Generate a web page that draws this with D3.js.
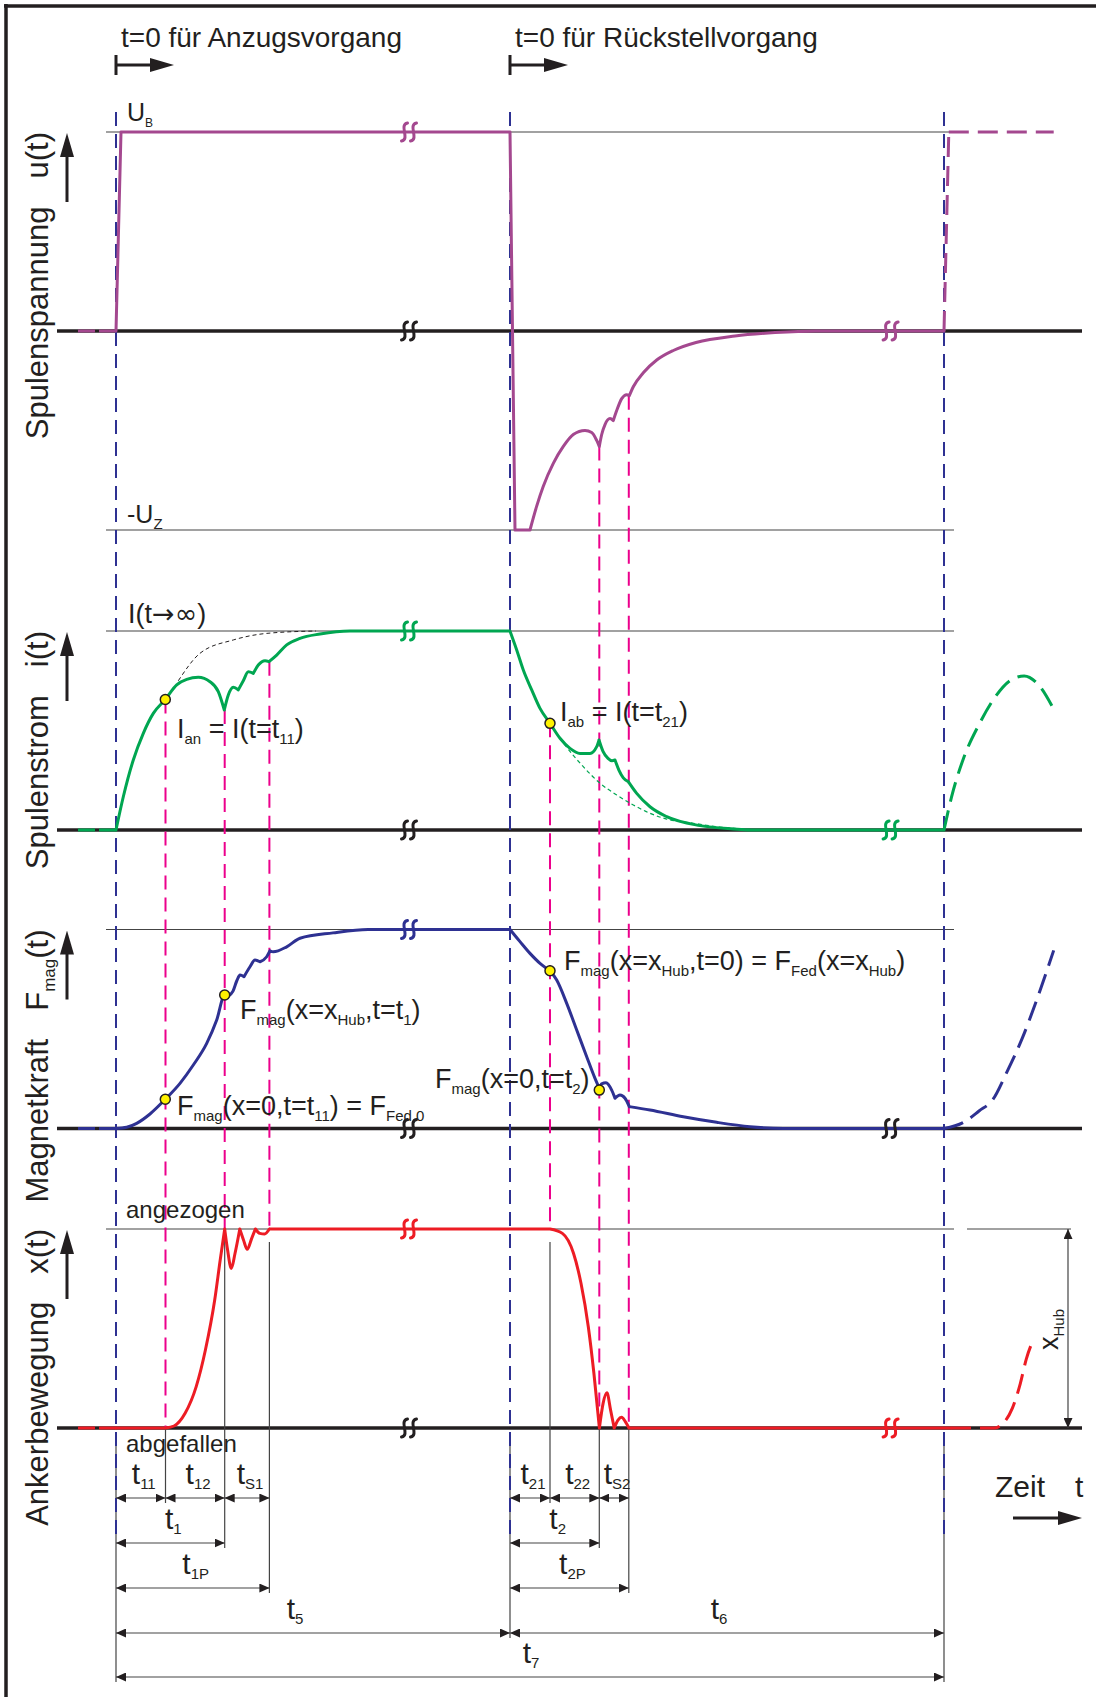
<!DOCTYPE html>
<html>
<head>
<meta charset="utf-8">
<script src="https://cdn.jsdelivr.net/npm/d3@7"></script>
<style>
  body { margin: 0; background: #fff; }
  svg { display: block; font-family: "Liberation Sans", Arial, sans-serif; }
  text { white-space: pre; fill: #231f20; }
</style>
</head>
<body>
<div id="canvas"></div>
<script>
// ---- time markers (diagram time units, t=0 at start of Anzugsvorgang)
const markerNames = ["T1", "t11", "t1", "tS1", "T2", "t21", "t2", "tS2", "T3"];
const markerTimes = [0, 49.5, 108.7, 153.4, 394, 434, 483.3, 512.8, 828];
const breakTimes = [293, 774.6];
const leadIn = [[-38, -21], [-17, 0]];

// ---- u(t) Spulenspannung (normalised, UB = 1, -UZ = -1)
const uCurve = [
  [[0, 0], [5, 1]],
  [[5, 1], [394, 1]],
  [[394, 1], [399, -1]],
  [[399, -1], [414, -1]],
  [[414, -1], [420.7, -0.88], [427.3, -0.78], [437.3, -0.665], [447.3, -0.58], [457.3, -0.52], [469, -0.5], [475.7, -0.51], [480.7, -0.55], [483.3, -0.58]],
  [[483.3, -0.58], [485.7, -0.52], [489, -0.47], [494, -0.44], [497.3, -0.45]],
  [[497.3, -0.45], [500.7, -0.4], [505.7, -0.34], [510.7, -0.32], [513.3, -0.325]],
  [[513.3, -0.325], [517.3, -0.28], [527.3, -0.21], [540.7, -0.146], [557.3, -0.098], [580, -0.058], [619, -0.025], [659, -0.008], [700, 0], [828, 0]]
];
const uNext = [[[828, 0], [832.8, 1]], [[832.8, 1], [937.7, 1]]];

// ---- i(t) Spulenstrom (I(t->inf) = 1)
const iCurve = [
  [[0, 0], [7.3, 0.167], [17.3, 0.352], [27.3, 0.486], [37.3, 0.586], [49.3, 0.656], [60.7, 0.729], [70.7, 0.757], [82.3, 0.767], [94, 0.745], [102.3, 0.695], [108.3, 0.603]],
  [[108.3, 0.603], [112.3, 0.678], [117.3, 0.717], [122.3, 0.704]],
  [[122.3, 0.704], [127.3, 0.75], [132.3, 0.795], [137.3, 0.787]],
  [[137.3, 0.787], [142.3, 0.829], [149, 0.851], [153, 0.846]],
  [[153, 0.846], [160.7, 0.879], [170.7, 0.93], [184, 0.963], [204, 0.985], [234, 1], [394, 1]],
  [[394, 1], [400.7, 0.905], [407.3, 0.804], [415.7, 0.704], [424, 0.611], [434, 0.536], [444, 0.461], [454, 0.41], [464, 0.385], [474, 0.385], [480.7, 0.419], [483, 0.452]],
  [[483, 0.452], [487, 0.395], [492, 0.36], [496, 0.348], [499, 0.352]],
  [[499, 0.352], [503, 0.3], [507.3, 0.262], [512.3, 0.243]],
  [[512.3, 0.243], [520.7, 0.184], [534, 0.117], [550.7, 0.067], [584, 0.022], [617.3, 0.005], [634, 0], [828, 0]]
];
const iNext = [[[828, 0], [835.5, 0.165], [847.3, 0.357], [863, 0.53], [878.7, 0.665], [894.5, 0.752], [908.2, 0.774], [922, 0.732], [937.7, 0.607]]];
const iIdealOn = [[62.3, 0.75], [84, 0.888], [117.3, 0.955], [150.7, 0.988], [200, 1]];
const iIdealOff = [[440, 0.49], [449, 0.427], [467.3, 0.318], [484, 0.235], [500.7, 0.176], [517.3, 0.126], [534, 0.084], [550.7, 0.055], [577.3, 0.034], [604, 0.015], [640, 0.002]];

// ---- F_mag(t) Magnetkraft
const fCurve = [
  [[0, 0], [10.7, 0.006], [20.7, 0.026], [34, 0.073], [49.3, 0.147], [64, 0.227], [77.3, 0.319], [90.7, 0.428], [100.7, 0.545], [108.7, 0.671], [112, 0.664]],
  [[112, 0.664], [117, 0.69], [121, 0.745], [124, 0.771], [128, 0.763]],
  [[128, 0.763], [134, 0.813], [139, 0.847], [144, 0.838]],
  [[144, 0.838], [150.7, 0.863], [154, 0.893]],
  [[154, 0.893], [157.3, 0.888], [170.7, 0.913], [184, 0.956], [217, 0.983], [252, 1], [394, 1]],
  [[394, 1], [404, 0.939], [414, 0.88], [424, 0.83], [434, 0.793]],
  [[434, 0.793], [440.7, 0.746], [450.7, 0.629], [460.7, 0.495], [470.7, 0.361], [479, 0.252], [483.3, 0.202]],
  [[483.3, 0.202], [485.7, 0.224], [490, 0.23], [495.7, 0.193], [499, 0.152]],
  [[499, 0.152], [504, 0.168], [509, 0.152], [513.3, 0.11]],
  [[513.3, 0.11], [534, 0.093], [567.3, 0.059], [600.7, 0.031], [634, 0.009], [667.3, 0], [828, 0]]
];
const fNext = [[[828, 0], [847.3, 0.03], [863, 0.088], [876.8, 0.145], [890.5, 0.28], [906.2, 0.453], [922, 0.664], [937.7, 0.895]]];

// ---- x(t) Ankerbewegung (x_Hub = 1)
const xCurve = [
  [[0, 0], [49.5, 0]],
  [[49.5, 0], [58, 0.01], [69.1, 0.074], [80.2, 0.208], [89.4, 0.392], [98.7, 0.643], [104.2, 0.844], [108.7, 1]],
  [[108.7, 1], [111.6, 0.894], [115.3, 0.802], [119, 0.877], [123.8, 1]],
  [[123.8, 1], [127.5, 0.945], [131.2, 0.898], [135.7, 0.953], [139.4, 1]],
  [[139.4, 1], [143.8, 0.978], [148.6, 0.975], [153.4, 1]],
  [[153.4, 1], [434, 1]],
  [[434, 1], [446.4, 0.978], [457.5, 0.878], [465, 0.727], [472.3, 0.509], [477.9, 0.275], [483.4, 0]],
  [[483.4, 0], [487.1, 0.124], [490.9, 0.177], [494.6, 0.09], [498.2, 0]],
  [[498.2, 0], [502, 0.04], [505.6, 0.054], [509.3, 0.032], [513, 0]],
  [[513, 0], [835, 0]]
];
const xNext = [[[835, 0], [878.7, 0], [886.6, 0.021], [896.4, 0.1], [904.3, 0.223], [910.2, 0.345], [918, 0.451]]];

// ---- yellow points
const dotPanel = ["i", "i", "F", "F", "F", "F"];
const dotTime = [49.3, 434, 49.3, 108.7, 434, 483.3];
const dotValue = [0.656, 0.536, 0.147, 0.671, 0.793, 0.193];

// ---- magenta helper lines
const magMarker = ["t11", "t1", "tS1", "t21", "t2", "tS2"];
const magFromPanel = ["i", "i", "i", "i", "u", "u"];
const magFromValue = [0.656, 0.603, 0.846, 0.536, -0.58, -0.325];
const magToValue = [0, 1, 1, 1, 0, 0];
const magExtRow = [0, 1, 2, 0, 1, 2];

// ---- time intervals
const dimSubs = ["11", "12", "S1", "21", "22", "S2", "1", "2", "1P", "2P", "5", "6", "7"];
const dimFrom = ["T1", "t11", "t1", "T2", "t21", "t2", "T1", "T2", "T1", "T2", "T1", "T2", "T1"];
const dimTo = ["t11", "t1", "tS1", "t21", "t2", "tS2", "t1", "t2", "tS1", "tS2", "T2", "T3", "T3"];
const dimRow = [0, 0, 0, 0, 0, 0, 1, 1, 2, 2, 3, 3, 4];

// ---- texts
const titles = ["t=0 für Anzugsvorgang", "t=0 für Rückstellvorgang"];
const axisNames = ["Spulenspannung", "Spulenstrom", "Magnetkraft", "Ankerbewegung"];
const axisSymbols = ["u(t)", "i(t)", "F_{mag}(t)", "x(t)"];
const notes = ["U_{B}", "-U_{Z}", "I(t→∞)", "I_{an} = I(t=t_{11})", "I_{ab} = I(t=t_{21})",
  "F_{mag}(x=x_{Hub},t=t_{1})", "F_{mag}(x=0,t=t_{11}) = F_{Fed,0}",
  "F_{mag}(x=x_{Hub},t=0) = F_{Fed}(x=x_{Hub})", "F_{mag}(x=0,t=t_{2})", "angezogen", "abgefallen"];

// ================= layout =================
const W = 1096, H = 1697;
const ink = "#231f20";
const colors = { u: "#a4488f", i: "#00a651", F: "#2e3192", x: "#ed1c24" };
const rowY = [1498, 1543, 1588, 1633, 1677];
const dimNudge = [3, 3, 3, 3, 3, 3, 3, 3, 3, 3, -18, -8, 1];
const notePos = [[127, 121, 25, 12], [127, 523, 25, 15], [128, 623, 27, 15], [177, 738, 27, 15], [560, 721, 27, 15],
  [240, 1019, 27, 15], [177, 1115, 27, 15], [564, 970, 27, 15], [435, 1088, 27, 15], [126, 1218, 24, 14], [126, 1452, 24, 14]];

const tm = name => markerTimes[markerNames.indexOf(name)];

const xT = d3.scaleLinear().domain([-59, 966]).range([57, 1082]);
const yS = {
  u: d3.scaleLinear().domain([-1, 1]).range([530, 132]),
  i: d3.scaleLinear().domain([0, 1]).range([830, 631]),
  F: d3.scaleLinear().domain([0, 1]).range([1128.5, 929.5]),
  x: d3.scaleLinear().domain([0, 1]).range([1428, 1229])
};
const keys = ["u", "i", "F", "x"];

const svg = d3.select("#canvas").append("svg").attr("width", W).attr("height", H);
svg.append("rect").attr("width", W).attr("height", H).attr("fill", "#fff");

const defs = svg.append("defs");
defs.append("marker").attr("id", "dimArrow")
  .attr("viewBox", "0 0 10 9").attr("refX", 10).attr("refY", 4.5)
  .attr("markerWidth", 10).attr("markerHeight", 9)
  .attr("markerUnits", "userSpaceOnUse").attr("orient", "auto-start-reverse")
  .append("path").attr("d", "M0,0 L10,4.5 L0,9 Z").attr("fill", ink);
defs.append("marker").attr("id", "bigArrow")
  .attr("viewBox", "0 0 24 14").attr("refX", 14).attr("refY", 7)
  .attr("markerWidth", 24).attr("markerHeight", 14)
  .attr("markerUnits", "userSpaceOnUse").attr("orient", "auto")
  .append("path").attr("d", "M0,0 L24,7 L0,14 Z").attr("fill", ink);

// rich text with _{sub}; arrow and infinity signs from DejaVu
function rich(sel, str, subSize, shift) {
  const parts = str.split(/(_\{[^}]*\}|[→∞])/).filter(s => s.length);
  let low = false;
  parts.forEach(p => {
    const isSub = p.startsWith("_{");
    const ts = sel.append("tspan").text(isSub ? p.slice(2, -1) : p);
    if (/^[→∞]$/.test(p)) ts.style("font-family", "'DejaVu Sans'");
    if (isSub) {
      ts.attr("font-size", subSize);
      if (!low) { ts.attr("dy", shift); low = true; }
    } else if (low) { ts.attr("dy", -shift); low = false; }
  });
  return sel;
}

// frame (top and left edge)
svg.append("line").attr("x1", 4).attr("x2", W).attr("y1", 6).attr("y2", 6).attr("stroke", ink).attr("stroke-width", 3.5);
svg.append("line").attr("x1", 6).attr("x2", 6).attr("y1", 4).attr("y2", H).attr("stroke", ink).attr("stroke-width", 3.5);

// thin level lines
const levels = [["u", 1], ["u", -1], ["i", 1], ["F", 1], ["x", 1]];
levels.forEach(([k, v]) => {
  svg.append("line").attr("x1", xT(-10)).attr("x2", xT(838))
    .attr("y1", yS[k](v)).attr("y2", yS[k](v)).attr("stroke", "#444").attr("stroke-width", 1.2);
});
svg.append("line").attr("x1", xT(851)).attr("x2", xT(955))
  .attr("y1", yS.x(1)).attr("y2", yS.x(1)).attr("stroke", "#444").attr("stroke-width", 1.2);

// zero lines
keys.forEach(k => {
  svg.append("line").attr("x1", xT(-59)).attr("x2", xT(966))
    .attr("y1", yS[k](0)).attr("y2", yS[k](0)).attr("stroke", ink).attr("stroke-width", 3.5);
});

// extension lines (thin) below the x panel
const ext = svg.append("g").attr("stroke", "#444").attr("stroke-width", 1.2);
[["T1", 4], ["T2", 3], ["T3", 4]].forEach(([m, r]) => {
  ext.append("line").attr("x1", xT(tm(m))).attr("x2", xT(tm(m)))
    .attr("y1", yS.x(0) + 14).attr("y2", rowY[r] + 5);
});
magMarker.forEach((m, j) => {
  const y0 = yS.x(magToValue[j]) + (magToValue[j] === 1 && j !== 1 ? 13 : 0);
  ext.append("line").attr("x1", xT(tm(m))).attr("x2", xT(tm(m)))
    .attr("y1", y0).attr("y2", rowY[magExtRow[j]] + 5);
});

// blue dashed verticals
["T1", "T2", "T3"].forEach(m => {
  svg.append("line").attr("x1", xT(tm(m))).attr("x2", xT(tm(m)))
    .attr("y1", 112).attr("y2", 1537)
    .attr("stroke", "#2e3192").attr("stroke-width", 2).attr("stroke-dasharray", "14 8");
});

// magenta dashed verticals
magMarker.forEach((m, j) => {
  svg.append("line").attr("x1", xT(tm(m))).attr("x2", xT(tm(m)))
    .attr("y1", yS[magFromPanel[j]](magFromValue[j])).attr("y2", yS.x(magToValue[j]))
    .attr("stroke", "#ec008c").attr("stroke-width", 2).attr("stroke-dasharray", "14 8");
});

// dimension arrows
dimSubs.forEach((s, j) => {
  const x1 = xT(tm(dimFrom[j])), x2 = xT(tm(dimTo[j])), y = rowY[dimRow[j]];
  svg.append("line").attr("x1", x1).attr("x2", x2).attr("y1", y).attr("y2", y)
    .attr("stroke", "#444").attr("stroke-width", 1.2)
    .attr("marker-start", "url(#dimArrow)").attr("marker-end", "url(#dimArrow)");
  const t = svg.append("text").attr("x", (x1 + x2) / 2 + dimNudge[j]).attr("y", y - 14)
    .attr("font-size", 30).attr("text-anchor", "middle");
  rich(t, "t_{" + s + "}", 15, 5);
});

// curves
const lineGen = k => d3.line().x(d => xT(d[0])).y(d => yS[k](d[1])).curve(d3.curveMonotoneX);
const curves = { u: [uCurve, uNext], i: [iCurve, iNext], F: [fCurve, fNext], x: [xCurve, xNext] };

svg.append("path").attr("d", lineGen("i")(iIdealOn)).attr("fill", "none")
  .attr("stroke", ink).attr("stroke-width", 1).attr("stroke-dasharray", "4 3");
svg.append("path").attr("d", lineGen("i")(iIdealOff)).attr("fill", "none")
  .attr("stroke", colors.i).attr("stroke-width", 1.2).attr("stroke-dasharray", "4 3");

keys.forEach(k => {
  const g = svg.append("g").attr("fill", "none").attr("stroke", colors[k]).attr("stroke-width", 3);
  leadIn.forEach(([a, b]) => {
    g.append("line").attr("x1", xT(a)).attr("x2", xT(b)).attr("y1", yS[k](0)).attr("y2", yS[k](0));
  });
  g.append("path").attr("d", curves[k][0].map(p => lineGen(k)(p)).join(""))
    .attr("stroke-linecap", "round").attr("stroke-linejoin", "round");
  g.append("path").attr("d", curves[k][1].map(p => lineGen(k)(p)).join(""))
    .attr("stroke-dasharray", "20 9");
});

// break marks (two small S strokes)
function breakMark(x, y, col) {
  let d = "";
  [-4.5, 4.5].forEach(dx => {
    const c = x + dx;
    d += `M${c + 3},${y - 9} C${c - 6},${y - 7} ${c + 6},${y + 7} ${c - 3},${y + 9}`;
  });
  svg.append("path").attr("d", d).attr("fill", "none").attr("stroke", col)
    .attr("stroke-width", 3).attr("stroke-linecap", "round");
}
const breakColor = {
  u: [[colors.u, ink], [null, colors.u]],
  i: [[colors.i, ink], [null, colors.i]],
  F: [[colors.F, ink], [null, ink]],
  x: [[colors.x, ink], [null, colors.x]]
};
keys.forEach(k => {
  breakTimes.forEach((bt, b) => {
    const [cTop, cZero] = breakColor[k][b];
    if (cTop) breakMark(xT(bt), yS[k](1), cTop);
    breakMark(xT(bt), yS[k](0), cZero);
  });
});

// yellow points
dotTime.forEach((t, j) => {
  svg.append("circle").attr("cx", xT(t)).attr("cy", yS[dotPanel[j]](dotValue[j])).attr("r", 5)
    .attr("fill", "#fff200").attr("stroke", ink).attr("stroke-width", 1.5);
});

// notes
notes.forEach((s, j) => {
  const [x, y, fs, ss] = notePos[j];
  rich(svg.append("text").attr("x", x).attr("y", y).attr("font-size", fs), s, ss, 6);
});

// titles with start arrows
titles.forEach((s, j) => {
  const x0 = xT(tm(j === 0 ? "T1" : "T2"));
  svg.append("text").attr("x", x0 + 5).attr("y", 47).attr("font-size", 28).text(s);
  svg.append("line").attr("x1", x0).attr("x2", x0).attr("y1", 55).attr("y2", 75).attr("stroke", ink).attr("stroke-width", 3);
  svg.append("line").attr("x1", x0).attr("x2", x0 + 48).attr("y1", 65).attr("y2", 65)
    .attr("stroke", ink).attr("stroke-width", 3).attr("marker-end", "url(#bigArrow)");
});

// rotated axis labels with arrows
keys.forEach((k, j) => {
  const top = yS[k].range()[1];
  const t = svg.append("text").attr("transform", `translate(48,${top}) rotate(-90)`)
    .attr("text-anchor", "end").attr("font-size", 31);
  t.append("tspan").text(axisNames[j]);
  const sym = t.append("tspan").attr("dx", 28);
  rich(sym, axisSymbols[j], 17, 7);
  svg.append("line").attr("x1", 67).attr("x2", 67).attr("y1", top + 70).attr("y2", top + 11)
    .attr("stroke", ink).attr("stroke-width", 3).attr("marker-end", "url(#bigArrow)");
});

// x_Hub dimension
svg.append("line").attr("x1", 1068).attr("x2", 1068).attr("y1", yS.x(1)).attr("y2", yS.x(0))
  .attr("stroke", "#444").attr("stroke-width", 1.2)
  .attr("marker-start", "url(#dimArrow)").attr("marker-end", "url(#dimArrow)");
rich(svg.append("text").attr("transform", "translate(1058,1350) rotate(-90)").attr("font-size", 27), "x_{Hub}", 15, 6);

// Zeit t
svg.append("text").attr("x", 995).attr("y", 1497).attr("font-size", 30).text("Zeit");
svg.append("text").attr("x", 1075).attr("y", 1497).attr("font-size", 30).text("t");
svg.append("line").attr("x1", 1013).attr("x2", 1072).attr("y1", 1518).attr("y2", 1518)
  .attr("stroke", ink).attr("stroke-width", 3).attr("marker-end", "url(#bigArrow)");
</script>
</body>
</html>
